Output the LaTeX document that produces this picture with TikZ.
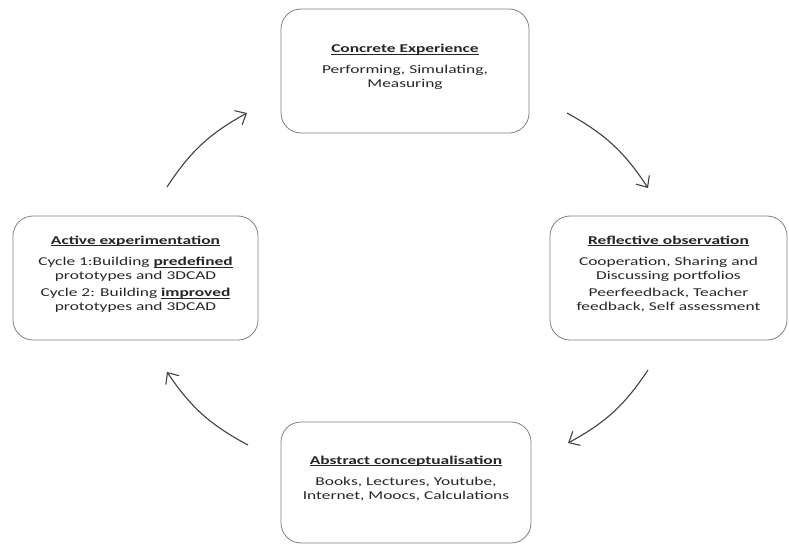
\documentclass[tikz,border=0pt]{standalone}
\usepackage{fontspec}
\setmainfont{Carlito}[FakeStretch=1.45]
\usepackage{tikz}
\usetikzlibrary{arrows.meta}

\newcommand{\ulbf}[1]{\underline{\smash{\textbf{#1}}}}

\begin{document}
\begin{tikzpicture}[
    x=1pt, y=1pt,
    every node/.style={font=\fontsize{12}{13.5}\selectfont, text=black!85},
    phase/.style={draw=black!50, line width=0.8pt, rounded corners=20pt, align=center, inner sep=0pt},
    arr/.style={-{Straight Barb[length=9pt, width=16pt]}, line width=1.1pt, draw=black!75, bend left=14},
  ]

  \useasboundingbox (0,0) rectangle (789,544);

  % Phase boxes
  \node[phase, minimum width=248pt, minimum height=124pt] (concrete) at (405,473)
    {\ulbf{Concrete Experience}\\[8pt]
     Performing, Simulating,\\ Measuring};
  \node[phase, minimum width=237pt, minimum height=124pt] (reflective) at (668.5,266)
    {\ulbf{Reflective observation}\\[8pt]
     Cooperation, Sharing and\\ Discussing portfolios\\[4pt]
     Peerfeedback, Teacher\\ feedback, Self assessment};
  \node[phase, minimum width=250pt, minimum height=121pt] (abstract) at (406,61.5)
    {\ulbf{Abstract conceptualisation}\\[8pt]
     Books, Lectures, Youtube,\\ Internet, Moocs, Calculations};
  \node[phase, minimum width=245pt, minimum height=124pt] (active) at (135.5,266)
    {\ulbf{Active experimentation}\\[8pt]
     Cycle 1:Building \ulbf{predefined}\\ prototypes and 3DCAD\\[4pt]
     Cycle 2: Building \ulbf{improved}\\ prototypes and 3DCAD};

  % Arrow ends
  \coordinate (ae-out) at (167,357);
  \coordinate (ce-in) at (247,431);
  \coordinate (ce-out) at (567,431);
  \coordinate (ro-in) at (648,356);
  \coordinate (ro-out) at (648,174);
  \coordinate (ac-in) at (568,101);
  \coordinate (ac-out) at (248,99);
  \coordinate (ae-in) at (167,172);

  % Cycle
  \draw[arr] (ae-out) to (ce-in);
  \draw[arr] (ce-out) to (ro-in);
  \draw[arr] (ro-out) to (ac-in);
  \draw[arr] (ac-out) to (ae-in);

\end{tikzpicture}
\end{document}
